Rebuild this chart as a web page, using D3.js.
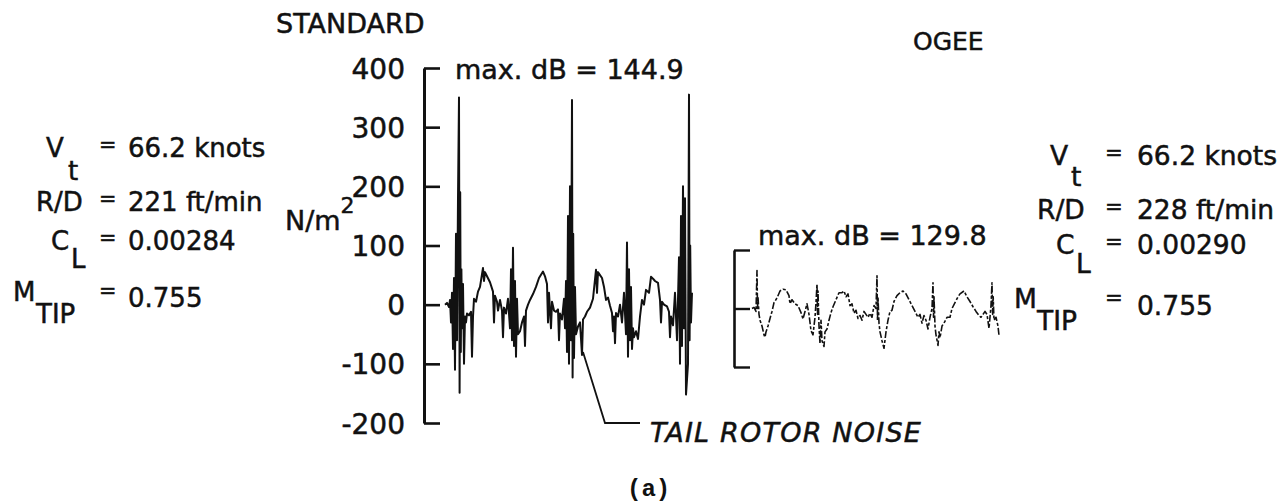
<!DOCTYPE html>
<html>
<head>
<meta charset="utf-8">
<script src="https://cdn.jsdelivr.net/npm/d3@7"></script>
<style>
  html, body { margin: 0; padding: 0; background: #fff; }
  svg { display: block; }
  .lbl { font-family: "DejaVu Sans", "Liberation Sans", sans-serif; fill: #111; stroke: #111; stroke-width: 0.5; }
</style>
</head>
<body>
<svg id="chart" width="1285" height="504"></svg>
<script>
// Acoustic pressure time histories, standard vs. ogee tip (sample time, pressure in N/m^2)
const stdTime = [0,2,4,5,6,7,8,9,10,11,12,13,14,14.6,15.2,15.8,16.4,17,18,19,20,21,22,24,26,27,28,29,31,33,35,38,39,40,42,45,48,49,50,52,53,55,57,58,59,61,63,65,66,67,68,69,70,71,72,73,75,77,79,80,81,83,85,88,91,94,98,100,102,103,104,106,107,109,111,113,114,115,117,119,120,121,122,123,124,125,126,127,127.6,128.2,129,130,131,133,135,137,138,140,142,145,148,151,152,153,155,157,159,161,163,165,167,168,169,170,171,173,175,177,179,181,182,183,184,185,186,187,188,189,191,193,195,197,199,201,204,206,208,210,213,215,216,217,219,222,224,225,226,228,230,232,234,235,236,237,238,239,240,241,243,244,244.6,245.2,246,247];
const stdPressure = [0,3,-4,8,-30,20,-75,45,-110,120,-60,180,350,-149,190,-80,60,-40,35,-100,-20,-30,-15,-18,-12,-88,-20,10,5,22,30,62,40,55,48,38,22,-30,15,5,-10,8,-10,-55,-5,-15,10,-40,60,-60,96,-70,40,-88,10,-50,-45,-30,-20,-70,-10,0,8,18,30,45,56,48,35,-30,20,-40,5,-10,-12,-8,-60,-15,-25,10,-40,40,-80,150,-100,200,-60,346,-123,120,-90,30,-50,-37,-30,-85,-25,-20,-12,-5,10,59,20,55,50,45,30,8,12,-2,-14,-45,-20,-65,-14,-20,0,-30,20,-50,105,-88,60,-60,30,-75,-40,-55,-45,-58,-20,8,0,25,20,47,44,40,37,8,-30,5,0,-3,-12,-55,-20,-35,20,-60,80,-100,150,-70,200,-40,180,-152,-100,355,-60,100,-30,20];

const ogeeTime = [0,2,4,5,5.5,6,7,8,10,12,13,14,16,18,20,22,25,28,31,34,37,38,40,43,46,49,51,53,55,57,59,61,63,64,65,65.5,66,67,68,69,70,72,73,75,77,79,81,84,87,90,92,94,96,98,100,102,104,106,108,110,112,114,116,118,120,122,124,125,125.5,126,127,128,130,132,134,136,138,140,142,145,148,151,154,157,160,163,166,168,170,172,174,176,178,180,181,181.5,182,183,184,186,187,188,190,192,195,198,200,203,206,208,212,215,218,221,224,227,229,231,233,235,237,238,239,240,240.6,241.2,242,244,246,247];
const ogeePressure = [0,2,-5,65,0,20,-10,-20,-30,-45,-49,-40,-30,-17,-5,10,18,30,33,32,22,8,15,8,5,-7,-18,-5,8,-10,-38,-45,-15,10,42,-10,30,-30,-60,-20,-55,-65,-40,-35,-20,-7,3,15,27,27,30,20,25,5,8,-8,-3,-17,-12,-20,-5,-10,-15,-8,-15,5,0,56,-20,20,-25,-40,-55,-68,-40,-20,-5,-3,12,22,27,30,25,15,5,-5,-15,-10,-25,-12,-20,-35,-15,0,44,-15,20,-30,-45,-63,-40,-50,-30,-25,-15,-15,0,10,20,25,30,20,12,3,-5,-12,-15,-10,-5,-10,-34,-15,5,44,-10,20,-20,-15,-30,-46];

const stdTicks = [400, 300, 200, 100, 0, -100, -200];
const ogeeTicks = [100, 0, -100];

const leftParams = [
  { name: "V", sub: "t", value: "66.2 knots" },
  { name: "R/D", sub: "", value: "221 ft/min" },
  { name: "C", sub: "L", value: "0.00284" },
  { name: "M", sub: "TIP", value: "0.755" }
];
const rightParams = [
  { name: "V", sub: "t", value: "66.2 knots" },
  { name: "R/D", sub: "", value: "228 ft/min" },
  { name: "C", sub: "L", value: "0.00290" },
  { name: "M", sub: "TIP", value: "0.755" }
];

const svg = d3.select("#chart");

// scales
const tDomain = [0, 250];
const xStd = d3.scaleLinear().domain(tDomain).range([445, 695]);
const yStd = d3.scaleLinear().domain([-200, 400]).range([423, 68]);
const xOg = d3.scaleLinear().domain(tDomain).range([752, 1002]);
const yOg = d3.scaleLinear().domain([-100, 100]).range([367, 250]);

// standard axis: spine with ticks pointing right, labels on the left
const axStd = svg.append("g").attr("transform", `translate(${xStd(0) - 21},0)`)
  .call(d3.axisLeft(yStd).tickValues(stdTicks).tickSizeInner(-16).tickSizeOuter(0)
    .tickPadding(19).tickFormat(d => String(d)));
axStd.select(".domain").attr("stroke", "#111").attr("stroke-width", 3);
axStd.selectAll(".tick line").attr("stroke", "#111").attr("stroke-width", 2.6);
axStd.selectAll(".tick text").attr("class", "lbl").attr("font-size", 28).attr("dy", "0.36em");

// ogee bracket
const axOg = svg.append("g").attr("transform", `translate(${xOg(0) - 18},0)`)
  .call(d3.axisLeft(yOg).tickValues(ogeeTicks).tickSizeInner(-16).tickSizeOuter(0).tickFormat(""));
axOg.select(".domain").attr("stroke", "#111").attr("stroke-width", 2.6);
axOg.selectAll(".tick line").attr("stroke", "#111").attr("stroke-width", 2.4);

// pressure traces
const lineStd = d3.line().x((d, i) => xStd(stdTime[i])).y(d => yStd(d));
svg.append("path").datum(stdPressure).attr("d", lineStd)
  .attr("fill", "none").attr("stroke", "#111").attr("stroke-width", 2).attr("stroke-linejoin", "round");

const lineOg = d3.line().x((d, i) => xOg(ogeeTime[i])).y(d => yOg(d));
svg.append("path").datum(ogeePressure).attr("d", lineOg)
  .attr("fill", "none").attr("stroke", "#111").attr("stroke-width", 1.6)
  .attr("stroke-dasharray", "7 2 3 2").attr("stroke-linejoin", "round");

// titles and annotations
const txt = (x, y, s, size, extra) => {
  const t = svg.append("text").attr("class", "lbl").attr("x", x).attr("y", y)
    .attr("font-size", size).text(s);
  if (extra) extra(t);
  return t;
};
txt(276, 33, "STANDARD", 27);
txt(913, 50, "OGEE", 25);
txt(455, 79, "max. dB = 144.9", 27);
txt(758, 245, "max. dB = 129.8", 27);

// pressure unit with superscript
const unit = txt(285, 230, "N/m", 27);
unit.append("tspan").attr("dy", -17).attr("font-size", 22).text("2");

// tail rotor leader
svg.append("path").attr("d", "M583,352 L605,423 L640,423")
  .attr("fill", "none").attr("stroke", "#111").attr("stroke-width", 1.8);
txt(650, 442, "TAIL ROTOR NOISE", 27, t => t.attr("font-style", "italic").attr("letter-spacing", 1.2));
svg.append("text").attr("x", 627).attr("y", 496).attr("font-family", "Liberation Mono, monospace")
  .attr("font-weight", "bold").attr("font-size", 24).attr("fill", "#111").text("(a)");

// flight condition blocks
function block(p, o) {
  const g = svg.append("g");
  p.forEach((d, i) => {
    const r = o.rows[i];
    g.append("text").attr("class", "lbl").attr("x", r.nx).attr("y", r.y).attr("font-size", o.size).text(d.name);
    if (d.sub) g.append("text").attr("class", "lbl").attr("x", r.sx).attr("y", r.sy).attr("font-size", o.size).text(d.sub);
    g.append("text").attr("class", "lbl").attr("x", o.eqX).attr("y", r.ey).attr("font-size", o.size * 0.8).text("=");
    g.append("text").attr("class", "lbl").attr("x", o.valX).attr("y", r.vy).attr("font-size", o.size).text(d.value);
  });
}
block(leftParams, {
  size: 26, eqX: 99, valX: 128,
  rows: [
    { nx: 46, y: 157, sx: 68, sy: 180, ey: 152, vy: 157 },
    { nx: 36, y: 211, ey: 206, vy: 211 },
    { nx: 51, y: 250, sx: 71, sy: 268, ey: 245, vy: 250 },
    { nx: 13, y: 301, sx: 36, sy: 323, ey: 298, vy: 307 }
  ]
});
block(rightParams, {
  size: 26.5, eqX: 1105, valX: 1137,
  rows: [
    { nx: 1050, y: 165, sx: 1071, sy: 186, ey: 160, vy: 165 },
    { nx: 1037, y: 219, ey: 214, vy: 219 },
    { nx: 1056, y: 254, sx: 1076, sy: 273, ey: 249, vy: 254 },
    { nx: 1014, y: 308, sx: 1037, sy: 330, ey: 305, vy: 315 }
  ]
});
</script>
</body>
</html>
